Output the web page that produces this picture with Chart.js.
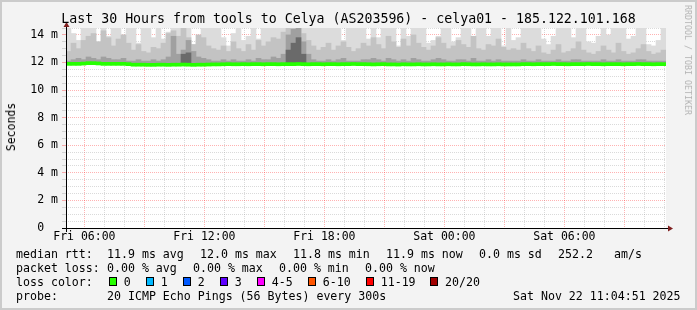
<!DOCTYPE html>
<html lang="en">
<head>
<meta charset="UTF-8">
<title>Last 30 Hours from tools to Celya</title>
<script src="https://cdn.jsdelivr.net/npm/chart.js"></script>
<style>
    body { margin: 0; background: #fff; }
    #frame {
        position: relative;
        width: 697px;
        height: 310px;
        background: #f3f3f3;
        box-shadow: inset 0 0 0 2px #cbcbcb;
        overflow: hidden;
        font-family: 'DejaVu Sans Mono', monospace;
        color: #000;
    }
    #frame canvas { position: absolute; left: 0; top: 0; }
    .t { position: absolute; white-space: pre; font-size: 11.6px; line-height: 14px; }
    .title { position: absolute; left: 0; width: 697px; top: 11px; text-align: center; font-size: 13.25px; line-height: 16px; white-space: pre; }
    .ylab { position: absolute; left: 11px; top: 127px; font-size: 11.5px; transform: translate(-50%, -50%) rotate(-90deg); white-space: pre; }
    .side { position: absolute; left: 688px; top: 60px; font-size: 8.3px; color: #b4b4b4; transform: translate(-50%, -50%) rotate(90deg); white-space: pre; }
    .box { position: absolute; width: 8px; height: 9px; box-sizing: border-box; border: 1px solid #000; }
</style>
</head>
<body>
<div id="frame">
    <canvas id="smoke" width="697" height="310"></canvas>
    <div class="title">Last 30 Hours from tools to Celya (AS203596) - celya01 - 185.122.101.168</div>
    <div class="ylab">Seconds</div>
    <div class="side">RRDTOOL / TOBI OETIKER</div>
    <div id="legend"></div>
</div>

<script>
    // time range: Fri 05:04:51 .. Sat 11:04:51, 15 minute bins
    const startHour = 5 + 4 / 60 + 51 / 3600;
    const spanHours = 30;
    const binHours = 0.25;

    const tickHours = [6, 12, 18, 24, 30];
    const tickLabels = ['Fri 06:00', 'Fri 12:00', 'Fri 18:00', 'Sat 00:00', 'Sat 06:00'];

    // values in ms
    const medianRtt = [
        11.90, 11.90, 11.90, 11.92, 11.95, 11.95, 11.93, 11.90, 11.90, 11.90, 11.90, 11.90, 11.88,
        11.84, 11.84, 11.84, 11.83, 11.83, 11.84, 11.84, 11.83, 11.84, 11.84, 11.85, 11.84, 11.83, 11.84, 11.84, 11.85, 11.86, 11.86,
        11.87, 11.88, 11.87, 11.87, 11.88, 11.87, 11.88, 11.88, 11.87, 11.88, 11.88, 11.87, 11.88, 11.88, 11.88, 11.89, 11.88, 11.87, 11.88,
        11.88, 11.87, 11.88, 11.88, 11.87, 11.88, 11.88, 11.89, 11.88, 11.88,
        11.87, 11.86, 11.87, 11.88, 11.86, 11.86, 11.85, 11.87, 11.86, 11.86, 11.87, 11.86, 11.86, 11.87, 11.86, 11.86, 11.87, 11.86, 11.86, 11.88,
        11.87, 11.86, 11.86, 11.87, 11.86, 11.86, 11.87, 11.86, 11.86, 11.86,
        11.86, 11.88, 11.88, 11.87, 11.88, 11.88, 11.88, 11.89, 11.88, 11.88, 11.87, 11.88, 11.88, 11.88, 11.89, 11.88, 11.88, 11.87, 11.88, 11.88,
        11.88, 11.87, 11.88, 11.88, 11.89, 11.88, 11.88, 11.87, 11.88, 11.88
    ];
    const maxRtt = [
        14.5, 14.1, 13.6, 14.5, 14.5, 14.5, 13.5, 14.5, 13.9, 14.5, 14.5, 14.0, 14.5, 14.5, 13.4, 14.5, 14.5, 13.8, 14.5, 13.7, 14.2, 14.5, 14.5, 14.5, 14.5, 13.3, 13.6, 14.5, 14.5, 14.5,
        14.5, 13.8, 13.2, 14.1, 14.5, 13.6, 13.9, 14.5, 13.7, 14.5, 14.5, 14.5, 14.5, 14.5, 13.5, 14.5, 13.9, 14.5, 14.5, 14.5, 14.5, 14.5, 14.5, 14.5, 14.5, 13.6, 14.5, 14.5, 14.5, 14.5,
        13.7, 14.5, 13.8, 14.5, 14.5, 14.5, 13.2, 14.5, 13.9, 14.5, 14.5, 14.5, 13.4, 13.6, 13.9, 14.5, 14.5, 13.5, 13.8, 14.5, 14.5, 13.7, 14.5, 14.5, 13.9, 14.5, 14.5, 13.2, 14.5, 13.6,
        13.8, 14.5, 14.5, 14.5, 14.5, 13.7, 13.3, 13.9, 14.5, 14.5, 14.5, 13.8, 14.5, 14.5, 13.5, 13.4, 13.9, 14.5, 14.0, 14.5, 14.5, 14.5, 13.7, 13.9, 14.5, 14.5, 13.3, 13.2, 13.6, 14.5
    ];
    const upperRtt = [
        12.8, 13.4, 13.0, 13.6, 13.9, 14.1, 13.5, 14.3, 13.8, 13.2, 13.7, 14.0, 13.4, 12.9, 13.3, 12.8, 12.7, 13.1, 13.0, 13.4, 14.1, 14.3, 13.9, 14.5, 13.8, 13.3, 14.0, 13.8, 13.2, 13.0,
        12.9, 13.2, 12.8, 13.5, 13.0, 12.8, 13.3, 12.9, 13.6, 13.2, 13.5, 13.8, 13.7, 14.2, 14.5, 14.5, 14.5, 14.1, 13.6, 13.2, 12.9, 13.1, 13.4, 12.9, 13.2, 13.5, 13.1, 12.8, 13.0, 13.4,
        13.2, 13.8, 13.3, 13.0, 13.9, 13.5, 13.1, 13.7, 13.2, 14.0, 13.4, 13.1, 12.9, 13.2, 13.8, 13.4, 13.0, 13.2, 13.6, 13.3, 13.1, 13.9, 13.0, 12.9, 13.3, 13.2, 13.7, 13.1, 12.9, 13.0,
        12.9, 13.4, 13.0, 12.8, 13.2, 12.7, 12.6, 12.9, 13.3, 12.7, 12.8, 13.0, 13.5, 12.9, 12.7, 12.6, 12.8, 13.2, 12.9, 12.7, 13.4, 12.8, 12.6, 12.7, 13.0, 13.3, 12.8, 12.6, 12.7, 12.9
    ];
    const darkRtt = [
        12.1, 12.2, 12.3, 12.2, 12.4, 12.3, 12.2, 12.4, 12.3, 12.2, 12.2, 12.3, 12.1, 12.1, 12.2, 12.1, 12.1, 12.2, 12.1, 12.2, 12.4, 13.9, 12.6, 12.9, 13.6, 12.8, 12.4, 12.3, 12.2, 12.1,
        12.1, 12.2, 12.1, 12.2, 12.1, 12.1, 12.2, 12.1, 12.3, 12.2, 12.2, 12.4, 12.3, 12.6, 14.0, 14.4, 14.5, 13.5, 12.6, 12.2, 12.1, 12.1, 12.2, 12.1, 12.2, 12.3, 12.1, 12.1, 12.1, 12.2,
        12.2, 12.3, 12.2, 12.1, 12.3, 12.2, 12.1, 12.2, 12.1, 12.3, 12.2, 12.1, 12.1, 12.2, 12.3, 12.2, 12.1, 12.1, 12.2, 12.2, 12.1, 12.3, 12.1, 12.1, 12.2, 12.1, 12.2, 12.1, 12.1, 12.1,
        12.1, 12.2, 12.1, 12.1, 12.2, 12.1, 12.1, 12.1, 12.2, 12.1, 12.1, 12.2, 12.2, 12.1, 12.1, 12.1, 12.1, 12.2, 12.1, 12.1, 12.2, 12.1, 12.1, 12.1, 12.2, 12.2, 12.1, 12.1, 12.1, 12.1
    ];
    const coreRtt = [
        null, null, null, null, null, null, null, null, null, null, null, null, null, null, null, null, null, null, null, null, null, null, null, 12.6, 12.7, null, null, null, null, null,
        null, null, null, null, null, null, null, null, null, null, null, null, null, null, 12.9, 13.4, 13.8, 12.6, null, null, null, null, null, null, null, null, null, null, null, null,
        null, null, null, null, null, null, null, null, null, null, null, null, null, null, null, null, null, null, null, null, null, null, null, null, null, null, null, null, null, null,
        null, null, null, null, null, null, null, null, null, null, null, null, null, null, null, null, null, null, null, null, null, null, null, null, null, null, null, null, null, null
    ];

    const lossLabels = ['0', '1', '2', '3', '4-5', '6-10', '11-19', '20/20'];
    const lossColors = ['#26ff00', '#00b8ff', '#0059ff', '#5e00ff', '#ff00ff', '#ff5500', '#ff0000', '#a10000'];

    // legend text below the graph
    const legend = document.getElementById('legend');
    function put(text, x, y) {
        const s = document.createElement('div');
        s.className = 't';
        s.textContent = text;
        s.style.left = x + 'px';
        s.style.top = (y - 7) + 'px';
        legend.appendChild(s);
    }
    put('median rtt:', 16, 254);
    put('11.9 ms avg', 107, 254);
    put('12.0 ms max', 200, 254);
    put('11.8 ms min', 293, 254);
    put('11.9 ms now', 386, 254);
    put('0.0 ms sd', 479, 254);
    put('252.2', 558, 254);
    put('am/s', 614, 254);
    put('packet loss:', 16, 268);
    put('0.00 % avg', 107, 268);
    put('0.00 % max', 193, 268);
    put('0.00 % min', 279, 268);
    put('0.00 % now', 365, 268);
    put('loss color:', 16, 282);
    const boxX = [108.7, 145.7, 182.7, 219.7, 256.7, 307.7, 365.7, 430];
    lossLabels.forEach((l, i) => {
        const b = document.createElement('div');
        b.className = 'box';
        b.style.left = boxX[i] + 'px';
        b.style.top = '277px';
        b.style.background = lossColors[i];
        legend.appendChild(b);
        put(l, boxX[i] + 15, 282);
    });
    put('probe:', 16, 296);
    put('20 ICMP Echo Pings (56 Bytes) every 300s', 107, 296);
    put('Sat Nov 22 11:04:51 2025', 513, 296);

    function binX(i) { return startHour + (i + 0.5) * binHours; }
    function band(lows, highs) {
        return highs.map((h, i) => ({ x: binX(i), y: h === null ? null : [lows[i], h] }));
    }
    function smokeSet(data, color, order) {
        return {
            data: data, backgroundColor: color, borderWidth: 0, order: order,
            grouped: false, barPercentage: 1.0, categoryPercentage: 1.0
        };
    }

    const plotBg = {
        id: 'plotBg',
        beforeDraw(chart) {
            const { ctx, chartArea: a } = chart;
            ctx.save();
            ctx.fillStyle = '#ffffff';
            ctx.fillRect(a.left, a.top, a.right - a.left, a.bottom - a.top);
            ctx.restore();
        }
    };
    const axes = {
        id: 'axes',
        afterDraw(chart) {
            const { ctx, chartArea: a } = chart;
            ctx.save();
            ctx.strokeStyle = '#000';
            ctx.lineWidth = 1;
            ctx.beginPath();
            ctx.moveTo(a.left - 4, a.bottom + 0.5);
            ctx.lineTo(a.right + 2, a.bottom + 0.5);
            ctx.moveTo(a.left + 0.5, a.bottom + 4);
            ctx.lineTo(a.left + 0.5, a.top - 2);
            ctx.stroke();
            ctx.fillStyle = '#7f1f1f';
            ctx.beginPath();
            ctx.moveTo(a.right + 2, a.bottom - 2.5);
            ctx.lineTo(a.right + 7, a.bottom + 0.5);
            ctx.lineTo(a.right + 2, a.bottom + 3.5);
            ctx.fill();
            ctx.beginPath();
            ctx.moveTo(a.left - 2.5, a.top - 1);
            ctx.lineTo(a.left + 0.5, a.top - 6);
            ctx.lineTo(a.left + 3.5, a.top - 1);
            ctx.fill();
            ctx.restore();
        }
    };

    const medianLow = medianRtt.map(v => v - 0.11);
    const medianHigh = medianRtt.map(v => v + 0.11);
    const tickFont = { family: 'DejaVu Sans Mono', size: 11.5 };
    const majorColor = 'rgba(255, 0, 0, 0.3)';
    const minorColor = 'rgba(150, 150, 150, 0.35)';

    new Chart(document.getElementById('smoke'), {
        type: 'bar',
        data: {
            datasets: [
                smokeSet(band(medianLow, medianHigh), '#26ff00', 0),
                smokeSet(band(medianRtt, coreRtt), '#6a6a6a', 1),
                smokeSet(band(medianRtt, darkRtt), '#a0a0a0', 2),
                smokeSet(band(medianRtt, upperRtt), '#c3c3c3', 3),
                smokeSet(band(medianRtt, maxRtt), '#dcdcdc', 4)
            ]
        },
        options: {
            responsive: false,
            animation: false,
            events: [],
            layout: { padding: { left: 0, right: 31, top: 28, bottom: 0 } },
            plugins: { legend: { display: false }, title: { display: false }, tooltip: { enabled: false } },
            scales: {
                x: {
                    type: 'linear',
                    min: startHour,
                    max: startHour + spanHours,
                    offset: false,
                    z: 1,
                    afterBuildTicks(scale) {
                        const t = [];
                        for (let h = Math.ceil(scale.min); h <= scale.max; h++) t.push({ value: h });
                        scale.ticks = t;
                    },
                    afterFit(scale) { scale.height = 82; },
                    grid: {
                        offset: false,
                        drawTicks: false,
                        color: c => (c.tick && c.tick.value % 3 === 0) ? majorColor : minorColor,
                        borderDash: [1, 1]
                    },
                    border: { display: false, dash: [1, 1] },
                    ticks: {
                        autoSkip: false,
                        maxRotation: 0,
                        padding: 2,
                        color: '#000',
                        font: tickFont,
                        callback: v => {
                            const k = tickHours.indexOf(v);
                            return k < 0 ? '' : tickLabels[k];
                        }
                    }
                },
                y: {
                    min: 0,
                    max: 14.5,
                    z: 1,
                    afterBuildTicks(scale) {
                        const t = [];
                        for (let v = 0; v <= 14.5; v += 0.5) t.push({ value: v });
                        scale.ticks = t;
                    },
                    afterFit(scale) { scale.width = 66; },
                    grid: {
                        drawTicks: true,
                        tickLength: 4,
                        color: c => (c.tick && c.tick.value % 2 === 0) ? majorColor : minorColor,
                        borderDash: [1, 1]
                    },
                    border: { display: false, dash: [1, 1] },
                    ticks: {
                        autoSkip: false,
                        padding: 4,
                        color: '#000',
                        font: tickFont,
                        callback: v => {
                            if (v === 0) return '0  ';
                            return v % 2 === 0 ? v + ' m' : '';
                        }
                    }
                }
            }
        },
        plugins: [plotBg, axes]
    });
</script>
</body>
</html>
